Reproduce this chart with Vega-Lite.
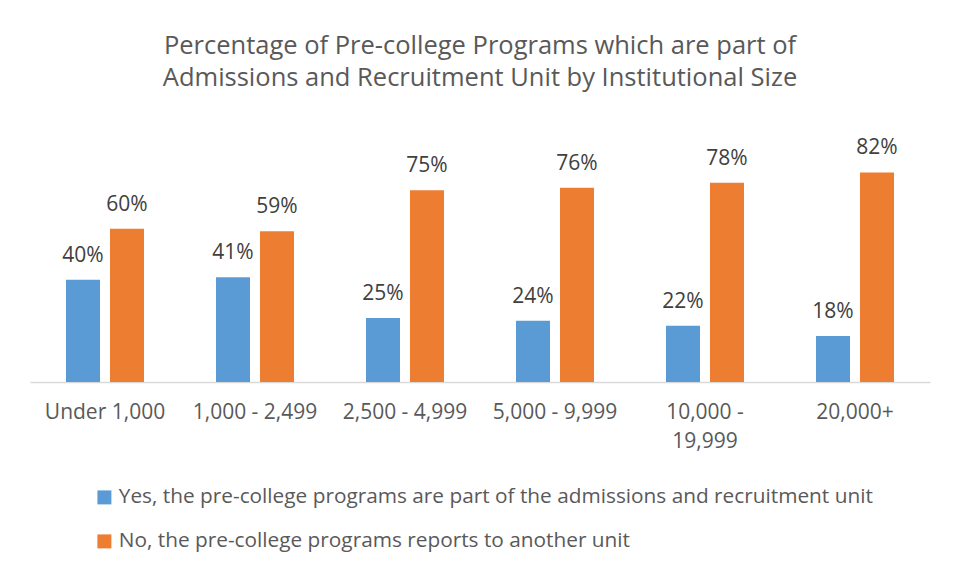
{
  "$schema": "https://vega.github.io/schema/vega-lite/v6.json",
  "width": 900,
  "height": 230,
  "autosize": {"type": "none"},
  "padding": {"left": 30, "top": 152, "right": 29, "bottom": 193},
  "background": "white",
  "title": {
    "text": ["Percentage of Pre-college Programs which are part of", "Admissions and Recruitment Unit by Institutional Size"],
    "anchor": "middle",
    "frame": "group",
    "baseline": "bottom",
    "offset": 21,
    "lineHeight": 32,
    "font": "Open Sans",
    "fontSize": 25.5,
    "fontWeight": "normal",
    "color": "#595959"
  },
  "data": {
    "values": [
      {"size": "Under 1,000", "response": "Yes, the pre-college programs are part of the admissions and recruitment unit", "pct": 0.40},
      {"size": "Under 1,000", "response": "No, the pre-college programs reports to another unit", "pct": 0.60},
      {"size": "1,000 - 2,499", "response": "Yes, the pre-college programs are part of the admissions and recruitment unit", "pct": 0.41},
      {"size": "1,000 - 2,499", "response": "No, the pre-college programs reports to another unit", "pct": 0.59},
      {"size": "2,500 - 4,999", "response": "Yes, the pre-college programs are part of the admissions and recruitment unit", "pct": 0.25},
      {"size": "2,500 - 4,999", "response": "No, the pre-college programs reports to another unit", "pct": 0.75},
      {"size": "5,000 - 9,999", "response": "Yes, the pre-college programs are part of the admissions and recruitment unit", "pct": 0.24},
      {"size": "5,000 - 9,999", "response": "No, the pre-college programs reports to another unit", "pct": 0.76},
      {"size": "10,000 - 19,999", "response": "Yes, the pre-college programs are part of the admissions and recruitment unit", "pct": 0.22},
      {"size": "10,000 - 19,999", "response": "No, the pre-college programs reports to another unit", "pct": 0.78},
      {"size": "20,000+", "response": "Yes, the pre-college programs are part of the admissions and recruitment unit", "pct": 0.18},
      {"size": "20,000+", "response": "No, the pre-college programs reports to another unit", "pct": 0.82}
    ]
  },
  "encoding": {
    "x": {
      "field": "size",
      "type": "nominal",
      "sort": null,
      "scale": {"paddingInner": 0.48, "paddingOuter": 0.24},
      "axis": {
        "title": null,
        "labelAngle": 0,
        "ticks": false,
        "domainColor": "#d9d9d9",
        "domainWidth": 1.5,
        "labelFont": "Open Sans",
        "labelFontSize": 21,
        "labelColor": "#595959",
        "labelPadding": 19,
        "labelLineHeight": 29,
        "labelExpr": "datum.value == '10,000 - 19,999' ? ['10,000 -', '19,999'] : datum.value"
      }
    },
    "xOffset": {
      "field": "response",
      "type": "nominal",
      "sort": null,
      "scale": {"paddingInner": 0.227, "paddingOuter": 0}
    },
    "y": {
      "field": "pct",
      "type": "quantitative",
      "scale": {"domain": [0, 0.9]},
      "axis": null
    }
  },
  "layer": [
    {
      "mark": {"type": "bar"},
      "encoding": {
        "color": {
          "field": "response",
          "type": "nominal",
          "sort": null,
          "scale": {
            "domain": ["Yes, the pre-college programs are part of the admissions and recruitment unit", "No, the pre-college programs reports to another unit"],
            "range": ["#5b9bd5", "#ed7d31"]
          },
          "legend": {
            "title": null,
            "orient": "none",
            "legendX": 64,
            "legendY": 335,
            "direction": "vertical",
            "padding": 0,
            "symbolType": "square",
            "symbolSize": 196,
            "symbolStrokeWidth": 0,
            "symbolOpacity": 1,
            "labelFont": "Open Sans",
            "labelFontSize": 20.8,
            "labelColor": "#595959",
            "labelOffset": 4,
            "labelLimit": 900,
            "rowPadding": 22
          }
        }
      }
    },
    {
      "mark": {"type": "text", "baseline": "alphabetic", "dy": -18, "font": "Open Sans", "fontSize": 21, "color": "#404040"},
      "encoding": {
        "text": {"field": "pct", "type": "quantitative", "format": ".0%"},
        "detail": {"field": "response"}
      }
    }
  ],
  "config": {
    "view": {"stroke": null}
  }
}
